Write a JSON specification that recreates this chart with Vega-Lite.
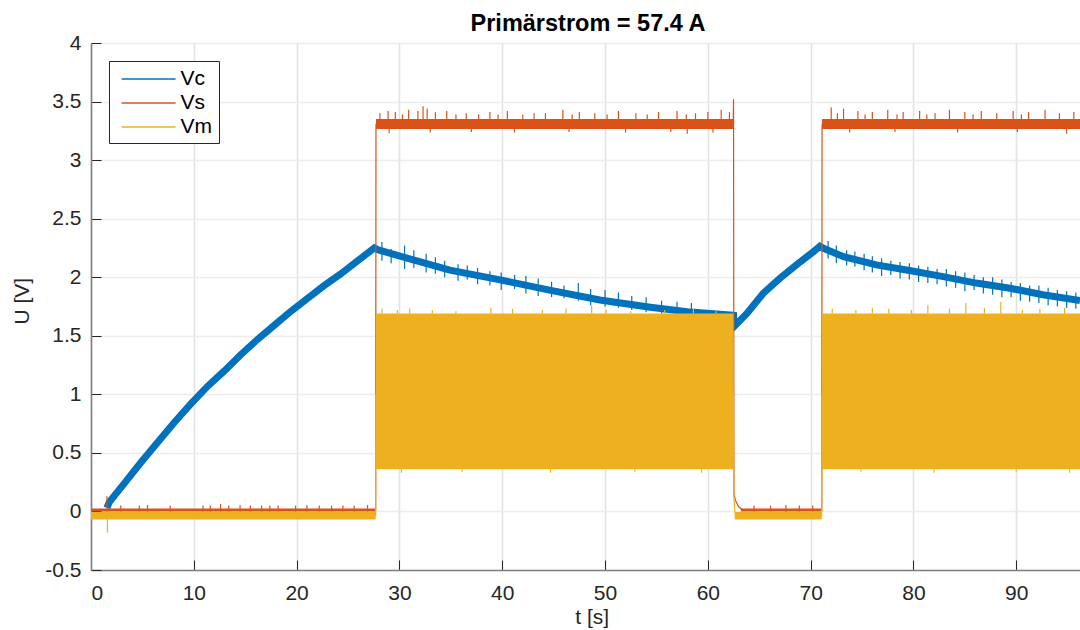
{
  "$schema": "https://vega.github.io/schema/vega-lite/v6.json",
  "width": 989,
  "height": 527,
  "autosize": {"type": "none"},
  "padding": {"left": 91, "top": 43, "right": 0, "bottom": 60},
  "background": "white",
  "title": {"text": "Primärstrom = 57.4 A", "font": "Liberation Sans", "fontSize": 23.5, "fontWeight": "bold", "color": "#000000", "anchor": "middle", "baseline": "bottom", "offset": -27.5, "dx": 2.5},
  "config": {
    "view": {"stroke": null},
    "axis": {"labelFont": "Liberation Sans", "titleFont": "Liberation Sans", "labelFontSize": 21, "titleFontSize": 21, "labelColor": "#262626", "titleColor": "#262626", "titleFontWeight": "normal", "tickColor": "#262626", "tickSize": -10, "tickWidth": 1, "domainColor": "#808080", "domainWidth": 1.6, "grid": true}
  },
  "datasets": {
    "ln": [
      {"s": "Vc", "t": 1.55, "v": 0.03}, {"s": "Vc", "t": 1.78, "v": 0.08}, {"s": "Vc", "t": 3.24, "v": 0.24}, {"s": "Vc", "t": 4.87, "v": 0.42}, {"s": "Vc", "t": 6.49, "v": 0.59}, {"s": "Vc", "t": 8.1, "v": 0.76}, {"s": "Vc", "t": 9.73, "v": 0.92}, {"s": "Vc", "t": 11.35, "v": 1.07}, {"s": "Vc", "t": 12.97, "v": 1.2}, {"s": "Vc", "t": 14.59, "v": 1.34}, {"s": "Vc", "t": 16.21, "v": 1.47}, {"s": "Vc", "t": 17.83, "v": 1.59}, {"s": "Vc", "t": 19.46, "v": 1.71}, {"s": "Vc", "t": 21.08, "v": 1.82}, {"s": "Vc", "t": 22.7, "v": 1.93}, {"s": "Vc", "t": 24.32, "v": 2.03}, {"s": "Vc", "t": 25.94, "v": 2.14}, {"s": "Vc", "t": 27.56, "v": 2.25}, {"s": "Vc", "t": 27.95, "v": 2.233}, {"s": "Vc", "t": 30.06, "v": 2.18}, {"s": "Vc", "t": 34.9, "v": 2.06}, {"s": "Vc", "t": 39.8, "v": 1.977}, {"s": "Vc", "t": 44.6, "v": 1.89}, {"s": "Vc", "t": 49.5, "v": 1.806}, {"s": "Vc", "t": 54.4, "v": 1.744}, {"s": "Vc", "t": 58.0, "v": 1.705}, {"s": "Vc", "t": 62.5, "v": 1.675}, {"s": "Vc", "t": 62.55, "v": 1.578}, {"s": "Vc", "t": 63.8, "v": 1.69}, {"s": "Vc", "t": 65.4, "v": 1.863}, {"s": "Vc", "t": 67.0, "v": 1.99}, {"s": "Vc", "t": 68.6, "v": 2.105}, {"s": "Vc", "t": 70.3, "v": 2.22}, {"s": "Vc", "t": 70.9, "v": 2.265}, {"s": "Vc", "t": 71.3, "v": 2.245}, {"s": "Vc", "t": 73.2, "v": 2.176}, {"s": "Vc", "t": 76.4, "v": 2.105}, {"s": "Vc", "t": 79.6, "v": 2.057}, {"s": "Vc", "t": 82.9, "v": 2.005}, {"s": "Vc", "t": 86.1, "v": 1.95}, {"s": "Vc", "t": 89.4, "v": 1.906}, {"s": "Vc", "t": 92.6, "v": 1.85}, {"s": "Vc", "t": 96.2, "v": 1.8},
      {"s": "Vs", "t": 0, "v": 0.012}, {"s": "Vs", "t": 27.69, "v": 0.012}, {"s": "Vs", "t": 27.72, "v": 3.305}, {"s": "Vs", "t": 62.47, "v": 3.305}, {"s": "Vs", "t": 62.5, "v": 3.52}, {"s": "Vs", "t": 62.54, "v": 0.15}, {"s": "Vs", "t": 62.7, "v": 0.09}, {"s": "Vs", "t": 63.0, "v": 0.04}, {"s": "Vs", "t": 63.4, "v": 0.015}, {"s": "Vs", "t": 71.08, "v": 0.012}, {"s": "Vs", "t": 71.11, "v": 3.305}, {"s": "Vs", "t": 96.2, "v": 3.305},
      {"s": "Vm", "t": 0, "v": -0.035}, {"s": "Vm", "t": 27.69, "v": -0.035}, {"s": "Vm", "t": 27.71, "v": 1.0}, {"s": "Vm", "t": 62.49, "v": 1.0}, {"s": "Vm", "t": 62.53, "v": 0.13}, {"s": "Vm", "t": 62.6, "v": 0.02}, {"s": "Vm", "t": 62.7, "v": -0.035}, {"s": "Vm", "t": 71.08, "v": -0.035}, {"s": "Vm", "t": 71.1, "v": 1.0}, {"s": "Vm", "t": 96.2, "v": 1.0}
    ],
    "band": [
      {"s": "Vs", "g": 1, "t": 0, "lo": 0.0, "hi": 0.025}, {"s": "Vs", "g": 1, "t": 27.69, "lo": 0.0, "hi": 0.025},
      {"s": "Vs", "g": 2, "t": 27.72, "lo": 3.265, "hi": 3.35}, {"s": "Vs", "g": 2, "t": 62.48, "lo": 3.265, "hi": 3.35},
      {"s": "Vs", "g": 3, "t": 63.2, "lo": 0.0, "hi": 0.025}, {"s": "Vs", "g": 3, "t": 71.08, "lo": 0.0, "hi": 0.025},
      {"s": "Vs", "g": 4, "t": 71.11, "lo": 3.265, "hi": 3.35}, {"s": "Vs", "g": 4, "t": 96.2, "lo": 3.265, "hi": 3.35},
      {"s": "Vm", "g": 1, "t": 0, "lo": -0.068, "hi": -0.004}, {"s": "Vm", "g": 1, "t": 27.69, "lo": -0.068, "hi": -0.004},
      {"s": "Vm", "g": 2, "t": 27.71, "lo": 0.36, "hi": 1.69}, {"s": "Vm", "g": 2, "t": 62.5, "lo": 0.36, "hi": 1.69},
      {"s": "Vm", "g": 3, "t": 62.62, "lo": -0.068, "hi": -0.004}, {"s": "Vm", "g": 3, "t": 71.08, "lo": -0.068, "hi": -0.004},
      {"s": "Vm", "g": 4, "t": 71.1, "lo": 0.36, "hi": 1.69}, {"s": "Vm", "g": 4, "t": 96.2, "lo": 0.36, "hi": 1.69}
    ],
    "spk": [
      {"s": "Vs", "t": 1.55, "lo": 0, "hi": 0.13}, {"s": "Vs", "t": 2.9, "lo": 0, "hi": 0.05}, {"s": "Vs", "t": 4.7, "lo": 0, "hi": 0.05}, {"s": "Vs", "t": 5.5, "lo": 0, "hi": 0.055}, {"s": "Vs", "t": 7.7, "lo": 0, "hi": 0.05}, {"s": "Vs", "t": 10.9, "lo": 0, "hi": 0.05}, {"s": "Vs", "t": 11.6, "lo": 0, "hi": 0.05}, {"s": "Vs", "t": 12.6, "lo": 0, "hi": 0.065}, {"s": "Vs", "t": 13.4, "lo": 0, "hi": 0.05}, {"s": "Vs", "t": 14.5, "lo": 0, "hi": 0.055}, {"s": "Vs", "t": 15.5, "lo": 0, "hi": 0.05}, {"s": "Vs", "t": 16.6, "lo": 0, "hi": 0.05}, {"s": "Vs", "t": 17.4, "lo": 0, "hi": 0.05}, {"s": "Vs", "t": 18.2, "lo": 0, "hi": 0.05}, {"s": "Vs", "t": 19.9, "lo": 0, "hi": 0.05}, {"s": "Vs", "t": 21.0, "lo": 0, "hi": 0.055}, {"s": "Vs", "t": 22.2, "lo": 0, "hi": 0.05}, {"s": "Vs", "t": 23.4, "lo": 0, "hi": 0.05}, {"s": "Vs", "t": 24.5, "lo": 0, "hi": 0.05}, {"s": "Vs", "t": 25.6, "lo": 0, "hi": 0.05}, {"s": "Vs", "t": 26.9, "lo": 0, "hi": 0.055}, {"s": "Vs", "t": 64.5, "lo": 0, "hi": 0.05}, {"s": "Vs", "t": 66.1, "lo": 0, "hi": 0.05}, {"s": "Vs", "t": 67.6, "lo": 0, "hi": 0.055}, {"s": "Vs", "t": 68.9, "lo": 0, "hi": 0.05}, {"s": "Vs", "t": 70.2, "lo": 0, "hi": 0.05},
      {"s": "Vs", "t": 28.1, "lo": 3.3, "hi": 3.4}, {"s": "Vs", "t": 28.9, "lo": 3.3, "hi": 3.42}, {"s": "Vs", "t": 29.6, "lo": 3.3, "hi": 3.41}, {"s": "Vs", "t": 30.3, "lo": 3.3, "hi": 3.39}, {"s": "Vs", "t": 30.9, "lo": 3.3, "hi": 3.43}, {"s": "Vs", "t": 31.8, "lo": 3.3, "hi": 3.42}, {"s": "Vs", "t": 32.3, "lo": 3.3, "hi": 3.46}, {"s": "Vs", "t": 32.7, "lo": 3.3, "hi": 3.44}, {"s": "Vs", "t": 33.5, "lo": 3.3, "hi": 3.41}, {"s": "Vs", "t": 34.6, "lo": 3.3, "hi": 3.42}, {"s": "Vs", "t": 35.5, "lo": 3.3, "hi": 3.39}, {"s": "Vs", "t": 36.5, "lo": 3.3, "hi": 3.4}, {"s": "Vs", "t": 37.7, "lo": 3.3, "hi": 3.39}, {"s": "Vs", "t": 38.8, "lo": 3.3, "hi": 3.41}, {"s": "Vs", "t": 39.6, "lo": 3.3, "hi": 3.39}, {"s": "Vs", "t": 40.5, "lo": 3.3, "hi": 3.42}, {"s": "Vs", "t": 42.0, "lo": 3.3, "hi": 3.39}, {"s": "Vs", "t": 43.1, "lo": 3.3, "hi": 3.4}, {"s": "Vs", "t": 44.2, "lo": 3.3, "hi": 3.4}, {"s": "Vs", "t": 45.9, "lo": 3.3, "hi": 3.43}, {"s": "Vs", "t": 46.8, "lo": 3.3, "hi": 3.39}, {"s": "Vs", "t": 47.5, "lo": 3.3, "hi": 3.41}, {"s": "Vs", "t": 49.0, "lo": 3.3, "hi": 3.4}, {"s": "Vs", "t": 50.2, "lo": 3.3, "hi": 3.39}, {"s": "Vs", "t": 51.3, "lo": 3.3, "hi": 3.42}, {"s": "Vs", "t": 53.0, "lo": 3.3, "hi": 3.4}, {"s": "Vs", "t": 54.1, "lo": 3.3, "hi": 3.39}, {"s": "Vs", "t": 55.2, "lo": 3.3, "hi": 3.41}, {"s": "Vs", "t": 57.0, "lo": 3.3, "hi": 3.42}, {"s": "Vs", "t": 57.9, "lo": 3.3, "hi": 3.39}, {"s": "Vs", "t": 58.8, "lo": 3.3, "hi": 3.4}, {"s": "Vs", "t": 60.0, "lo": 3.3, "hi": 3.41}, {"s": "Vs", "t": 61.3, "lo": 3.3, "hi": 3.43}, {"s": "Vs", "t": 62.1, "lo": 3.3, "hi": 3.41},
      {"s": "Vs", "t": 29.0, "lo": 3.23, "hi": 3.3}, {"s": "Vs", "t": 33.0, "lo": 3.235, "hi": 3.3}, {"s": "Vs", "t": 37.0, "lo": 3.24, "hi": 3.3}, {"s": "Vs", "t": 41.2, "lo": 3.235, "hi": 3.3}, {"s": "Vs", "t": 46.5, "lo": 3.24, "hi": 3.3}, {"s": "Vs", "t": 52.0, "lo": 3.235, "hi": 3.3}, {"s": "Vs", "t": 56.4, "lo": 3.24, "hi": 3.3}, {"s": "Vs", "t": 58.0, "lo": 3.225, "hi": 3.3}, {"s": "Vs", "t": 60.5, "lo": 3.235, "hi": 3.3},
      {"s": "Vs", "t": 72.0, "lo": 3.3, "hi": 3.45}, {"s": "Vs", "t": 72.6, "lo": 3.3, "hi": 3.4}, {"s": "Vs", "t": 73.2, "lo": 3.3, "hi": 3.44}, {"s": "Vs", "t": 74.6, "lo": 3.3, "hi": 3.42}, {"s": "Vs", "t": 75.3, "lo": 3.3, "hi": 3.39}, {"s": "Vs", "t": 76.0, "lo": 3.3, "hi": 3.41}, {"s": "Vs", "t": 77.5, "lo": 3.3, "hi": 3.43}, {"s": "Vs", "t": 78.4, "lo": 3.3, "hi": 3.39}, {"s": "Vs", "t": 79.0, "lo": 3.3, "hi": 3.41}, {"s": "Vs", "t": 80.6, "lo": 3.3, "hi": 3.42}, {"s": "Vs", "t": 81.3, "lo": 3.3, "hi": 3.39}, {"s": "Vs", "t": 82.1, "lo": 3.3, "hi": 3.4}, {"s": "Vs", "t": 83.5, "lo": 3.3, "hi": 3.43}, {"s": "Vs", "t": 85.0, "lo": 3.3, "hi": 3.41}, {"s": "Vs", "t": 85.8, "lo": 3.3, "hi": 3.39}, {"s": "Vs", "t": 86.6, "lo": 3.3, "hi": 3.42}, {"s": "Vs", "t": 88.1, "lo": 3.3, "hi": 3.4}, {"s": "Vs", "t": 89.7, "lo": 3.3, "hi": 3.42}, {"s": "Vs", "t": 90.5, "lo": 3.3, "hi": 3.39}, {"s": "Vs", "t": 91.2, "lo": 3.3, "hi": 3.41}, {"s": "Vs", "t": 92.8, "lo": 3.3, "hi": 3.43}, {"s": "Vs", "t": 94.2, "lo": 3.3, "hi": 3.4}, {"s": "Vs", "t": 95.6, "lo": 3.3, "hi": 3.41},
      {"s": "Vs", "t": 73.8, "lo": 3.235, "hi": 3.3}, {"s": "Vs", "t": 78.2, "lo": 3.24, "hi": 3.3}, {"s": "Vs", "t": 84.3, "lo": 3.235, "hi": 3.3}, {"s": "Vs", "t": 90.1, "lo": 3.24, "hi": 3.3}, {"s": "Vs", "t": 94.9, "lo": 3.225, "hi": 3.3},
      {"s": "Vc", "t": 28.3, "lo": 2.14, "hi": 2.3}, {"s": "Vc", "t": 29.2, "lo": 2.12, "hi": 2.24}, {"s": "Vc", "t": 30.5, "lo": 2.07, "hi": 2.27}, {"s": "Vc", "t": 31.4, "lo": 2.08, "hi": 2.23}, {"s": "Vc", "t": 32.6, "lo": 2.04, "hi": 2.2}, {"s": "Vc", "t": 33.5, "lo": 2.03, "hi": 2.17}, {"s": "Vc", "t": 34.4, "lo": 2.0, "hi": 2.14}, {"s": "Vc", "t": 35.7, "lo": 1.97, "hi": 2.11}, {"s": "Vc", "t": 36.6, "lo": 1.98, "hi": 2.1}, {"s": "Vc", "t": 37.6, "lo": 1.94, "hi": 2.08}, {"s": "Vc", "t": 38.8, "lo": 1.93, "hi": 2.05}, {"s": "Vc", "t": 39.9, "lo": 1.89, "hi": 2.04}, {"s": "Vc", "t": 41.2, "lo": 1.9, "hi": 2.02}, {"s": "Vc", "t": 42.3, "lo": 1.86, "hi": 2.01}, {"s": "Vc", "t": 43.5, "lo": 1.84, "hi": 1.99}, {"s": "Vc", "t": 44.8, "lo": 1.83, "hi": 1.96}, {"s": "Vc", "t": 46.0, "lo": 1.82, "hi": 1.93}, {"s": "Vc", "t": 47.4, "lo": 1.8, "hi": 1.95}, {"s": "Vc", "t": 48.6, "lo": 1.76, "hi": 1.9}, {"s": "Vc", "t": 50.0, "lo": 1.75, "hi": 1.89}, {"s": "Vc", "t": 51.3, "lo": 1.74, "hi": 1.87}, {"s": "Vc", "t": 52.6, "lo": 1.72, "hi": 1.84}, {"s": "Vc", "t": 54.0, "lo": 1.7, "hi": 1.83}, {"s": "Vc", "t": 55.5, "lo": 1.69, "hi": 1.8}, {"s": "Vc", "t": 57.0, "lo": 1.68, "hi": 1.79}, {"s": "Vc", "t": 58.4, "lo": 1.68, "hi": 1.78},
      {"s": "Vc", "t": 71.7, "lo": 2.16, "hi": 2.31}, {"s": "Vc", "t": 72.5, "lo": 2.12, "hi": 2.27}, {"s": "Vc", "t": 73.5, "lo": 2.1, "hi": 2.23}, {"s": "Vc", "t": 74.3, "lo": 2.09, "hi": 2.22}, {"s": "Vc", "t": 75.2, "lo": 2.06, "hi": 2.2}, {"s": "Vc", "t": 76.0, "lo": 2.04, "hi": 2.18}, {"s": "Vc", "t": 76.9, "lo": 2.01, "hi": 2.16}, {"s": "Vc", "t": 77.8, "lo": 2.02, "hi": 2.14}, {"s": "Vc", "t": 78.7, "lo": 1.99, "hi": 2.13}, {"s": "Vc", "t": 79.6, "lo": 1.98, "hi": 2.12}, {"s": "Vc", "t": 80.5, "lo": 1.96, "hi": 2.1}, {"s": "Vc", "t": 81.4, "lo": 1.95, "hi": 2.09}, {"s": "Vc", "t": 82.3, "lo": 1.94, "hi": 2.07}, {"s": "Vc", "t": 83.2, "lo": 1.92, "hi": 2.07}, {"s": "Vc", "t": 84.1, "lo": 1.91, "hi": 2.05}, {"s": "Vc", "t": 85.0, "lo": 1.88, "hi": 2.04}, {"s": "Vc", "t": 85.9, "lo": 1.89, "hi": 2.02}, {"s": "Vc", "t": 86.8, "lo": 1.86, "hi": 2.0}, {"s": "Vc", "t": 87.7, "lo": 1.85, "hi": 2.0}, {"s": "Vc", "t": 88.6, "lo": 1.83, "hi": 1.98}, {"s": "Vc", "t": 89.5, "lo": 1.83, "hi": 1.96}, {"s": "Vc", "t": 90.4, "lo": 1.8, "hi": 1.95}, {"s": "Vc", "t": 91.3, "lo": 1.79, "hi": 1.93}, {"s": "Vc", "t": 92.2, "lo": 1.78, "hi": 1.93}, {"s": "Vc", "t": 93.1, "lo": 1.76, "hi": 1.91}, {"s": "Vc", "t": 94.0, "lo": 1.75, "hi": 1.89}, {"s": "Vc", "t": 94.9, "lo": 1.74, "hi": 1.88}, {"s": "Vc", "t": 95.8, "lo": 1.73, "hi": 1.87},
      {"s": "Vm", "t": 1.6, "lo": -0.18, "hi": -0.03},
      {"s": "Vm", "t": 28.3, "lo": 1.69, "hi": 1.73}, {"s": "Vm", "t": 29.8, "lo": 1.69, "hi": 1.72}, {"s": "Vm", "t": 31.0, "lo": 1.69, "hi": 1.73}, {"s": "Vm", "t": 33.2, "lo": 1.69, "hi": 1.72}, {"s": "Vm", "t": 35.5, "lo": 1.69, "hi": 1.71}, {"s": "Vm", "t": 38.9, "lo": 1.69, "hi": 1.74}, {"s": "Vm", "t": 41.0, "lo": 1.69, "hi": 1.73}, {"s": "Vm", "t": 43.9, "lo": 1.69, "hi": 1.72}, {"s": "Vm", "t": 46.2, "lo": 1.69, "hi": 1.73}, {"s": "Vm", "t": 48.7, "lo": 1.69, "hi": 1.76}, {"s": "Vm", "t": 50.1, "lo": 1.69, "hi": 1.72}, {"s": "Vm", "t": 52.5, "lo": 1.69, "hi": 1.71}, {"s": "Vm", "t": 55.8, "lo": 1.69, "hi": 1.72}, {"s": "Vm", "t": 58.6, "lo": 1.69, "hi": 1.73}, {"s": "Vm", "t": 60.8, "lo": 1.69, "hi": 1.71},
      {"s": "Vm", "t": 72.1, "lo": 1.69, "hi": 1.73}, {"s": "Vm", "t": 74.4, "lo": 1.69, "hi": 1.72}, {"s": "Vm", "t": 76.0, "lo": 1.69, "hi": 1.74}, {"s": "Vm", "t": 77.6, "lo": 1.69, "hi": 1.73}, {"s": "Vm", "t": 79.8, "lo": 1.69, "hi": 1.72}, {"s": "Vm", "t": 81.4, "lo": 1.69, "hi": 1.76}, {"s": "Vm", "t": 83.5, "lo": 1.69, "hi": 1.73}, {"s": "Vm", "t": 85.1, "lo": 1.69, "hi": 1.78}, {"s": "Vm", "t": 86.9, "lo": 1.69, "hi": 1.74}, {"s": "Vm", "t": 88.5, "lo": 1.69, "hi": 1.79}, {"s": "Vm", "t": 90.6, "lo": 1.69, "hi": 1.72}, {"s": "Vm", "t": 92.3, "lo": 1.69, "hi": 1.73}, {"s": "Vm", "t": 94.7, "lo": 1.69, "hi": 1.74},
      {"s": "Vm", "t": 30.2, "lo": 0.33, "hi": 0.36}, {"s": "Vm", "t": 36.1, "lo": 0.34, "hi": 0.36}, {"s": "Vm", "t": 44.7, "lo": 0.33, "hi": 0.36}, {"s": "Vm", "t": 52.9, "lo": 0.34, "hi": 0.36}, {"s": "Vm", "t": 59.4, "lo": 0.33, "hi": 0.36}, {"s": "Vm", "t": 74.9, "lo": 0.34, "hi": 0.36}, {"s": "Vm", "t": 82.0, "lo": 0.33, "hi": 0.36}, {"s": "Vm", "t": 90.0, "lo": 0.34, "hi": 0.36}, {"s": "Vm", "t": 95.2, "lo": 0.33, "hi": 0.36}
    ]
  },
  "encoding": {
    "x": {"field": "t", "type": "quantitative", "scale": {"domain": [0, 96.2], "nice": false, "zero": false},
      "axis": {"title": "t [s]", "values": [0, 10, 20, 30, 40, 50, 60, 70, 80, 90], "gridColor": "#e3e3e3", "gridWidth": 1.6, "labelPadding": 22, "titleX": 500.7, "titleY": 53.3, "titleBaseline": "alphabetic", "titleAnchor": null}},
    "y": {"type": "quantitative", "scale": {"domain": [-0.5, 4], "nice": false, "zero": false},
      "axis": {"title": "U [V]", "values": [-0.5, 0, 0.5, 1, 1.5, 2, 2.5, 3, 3.5, 4], "format": "~g", "labelExpr": "replace(datum.label, '\u2212', '-')", "gridColor": "#ececec", "gridWidth": 1.4, "labelPadding": 20, "titleX": -69, "titleY": 257.7, "titleBaseline": "middle", "titleAngle": -90}}
  },
  "layer": [
    {"data": {"name": "ln"}, "transform": [{"filter": "datum.s == 'Vc'"}], "mark": {"type": "line", "strokeWidth": 7, "strokeCap": "butt", "clip": true},
      "encoding": {"y": {"field": "v"}, "color": {"field": "s", "type": "nominal", "scale": {"domain": ["Vc", "Vs", "Vm"], "range": ["#0072BD", "#D95319", "#EDB120"]},
        "legend": {"title": null, "orient": "none", "legendX": 18, "legendY": 18, "symbolType": "M-2.5,0H2.5", "symbolSize": 466, "symbolStrokeWidth": 1.5, "symbolOffset": 21.6, "labelOffset": 20, "labelFont": "Liberation Sans", "labelFontSize": 21, "labelColor": "#000000", "padding": 6, "strokeColor": "#262626", "fillColor": "white", "rowPadding": 2}}}},
    {"data": {"name": "spk"}, "transform": [{"filter": "datum.s == 'Vc'"}], "mark": {"type": "rule", "color": "#0072BD", "strokeWidth": 1.2, "clip": true},
      "encoding": {"y": {"field": "lo"}, "y2": {"field": "hi"}}},
    {"data": {"name": "band"}, "transform": [{"filter": "datum.s == 'Vs'"}], "mark": {"type": "area", "color": "#D95319", "clip": true},
      "encoding": {"y": {"field": "lo"}, "y2": {"field": "hi"}, "detail": {"field": "g", "type": "nominal"}}},
    {"data": {"name": "spk"}, "transform": [{"filter": "datum.s == 'Vs'"}], "mark": {"type": "rule", "color": "#D95319", "strokeWidth": 1.2, "clip": true},
      "encoding": {"y": {"field": "lo"}, "y2": {"field": "hi"}}},
    {"data": {"name": "ln"}, "transform": [{"filter": "datum.s == 'Vs'"}], "mark": {"type": "line", "strokeWidth": 1.2, "clip": true},
      "encoding": {"y": {"field": "v"}, "color": {"field": "s", "type": "nominal"}}},
    {"data": {"name": "band"}, "transform": [{"filter": "datum.s == 'Vm'"}], "mark": {"type": "area", "color": "#EDB120", "clip": true},
      "encoding": {"y": {"field": "lo"}, "y2": {"field": "hi"}, "detail": {"field": "g", "type": "nominal"}}},
    {"data": {"name": "spk"}, "transform": [{"filter": "datum.s == 'Vm'"}], "mark": {"type": "rule", "color": "#EDB120", "strokeWidth": 1.2, "clip": true},
      "encoding": {"y": {"field": "lo"}, "y2": {"field": "hi"}}},
    {"data": {"name": "ln"}, "transform": [{"filter": "datum.s == 'Vm'"}], "mark": {"type": "line", "strokeWidth": 1.2, "clip": true},
      "encoding": {"y": {"field": "v"}, "color": {"field": "s", "type": "nominal"}}}
  ]
}
